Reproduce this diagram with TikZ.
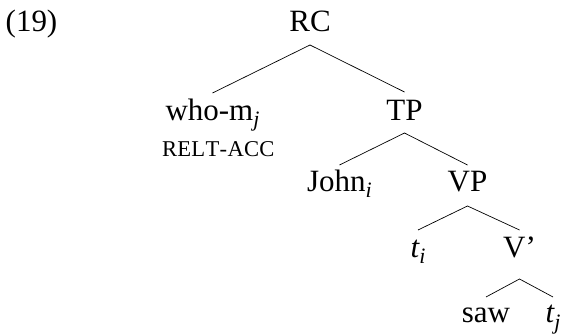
\documentclass[tikz,border=0pt]{standalone}
\usepackage{fontspec}
\setmainfont{Liberation Serif}
% italic index lowered below the baseline
\newcommand{\lsub}[1]{\raisebox{-6pt}{\fontsize{22}{22}\selectfont\itshape #1}}
% small-capital gloss
\newcommand{\glosssc}[1]{{\fontsize{22.6}{24}\selectfont #1}}
\begin{document}
\begin{tikzpicture}[x=1pt,y=-1pt,
  lbl/.style={inner sep=0pt,outer sep=0pt,anchor=base,font=\fontsize{31}{37}\selectfont},
  branch/.style={line width=0.7pt,black}]
\useasboundingbox (0,0) rectangle (563,334);

% example number
\node[lbl] (ex) at (31.5,32) {(19)};

% tree labels
\node[lbl] (rc)   at (310,32)    {RC};
\node[lbl] (who)  at (212.5,121) {who-m\lsub{j}};
\node[lbl,anchor=base west] (relt) at (162,157) {\glosssc{R\kern0.3ptE\kern0.3ptL\kern0.3ptT\kern0.3pt-\kern0.3ptA\kern0.3ptC\kern0.3ptC}};
\node[lbl] (tp)   at (404.5,121) {TP};
\node[lbl] (john) at (339.5,192) {John\lsub{i}};
\node[lbl] (vp)   at (467.5,192) {VP};
\node[lbl] (ti)   at (418,258)   {\itshape t\lsub{i}};
\node[lbl] (vbar) at (519.5,258) {V’};
\node[lbl] (saw)  at (486,323)   {saw};
\node[lbl] (tj)   at (553,323)   {\itshape t\lsub{j}};

% branches
\draw[branch] ([yshift=28pt]who.base)  -- ([yshift=-13pt]rc.base) -- ([yshift=29pt]tp.base);
\draw[branch] ([yshift=27pt]john.base) -- ([yshift=-12pt]tp.base) -- ([yshift=27pt]vp.base);
\draw[branch] ([yshift=28pt]ti.base)   -- ([yshift=-14pt]vp.base) -- ([yshift=28pt]vbar.base);
\draw[branch] ([yshift=26pt]saw.base)  -- ([yshift=-21pt]vbar.base) -- ([yshift=26pt]tj.base);
\end{tikzpicture}
\end{document}
